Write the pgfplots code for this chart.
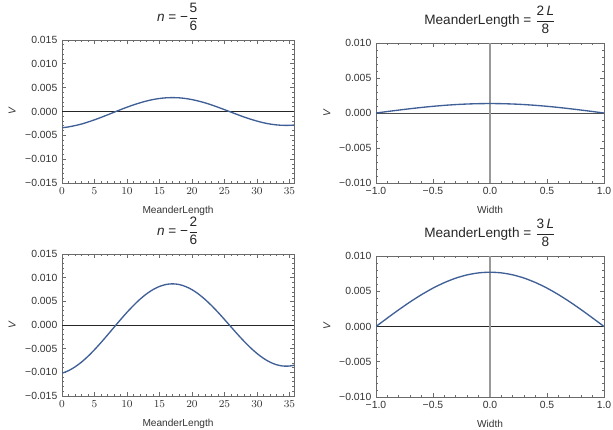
\documentclass[border=0pt]{standalone}
\usepackage{pgfplots}
\pgfplotsset{compat=1.18}
\usepackage{fontspec}
\setmainfont{Liberation Sans}
\definecolor{curve}{HTML}{3F5F96}
\definecolor{frame}{HTML}{6A6A6A}

\pgfplotsset{
  mma/.style={
    scale only axis,
    axis line style={frame, line width=0.6pt},
    tick style={frame, line width=0.5pt},
    major tick length=3pt, minor tick length=1.6pt,
    tick align=inside, tick pos=both,
    xticklabel pos=lower, yticklabel pos=left,
    scaled ticks=false,
    tick label style={font=\fontsize{7.8}{9}\selectfont, text=black!80},
    label style={font=\fontsize{7.6}{9}\selectfont, text=black!80},
    title style={font=\fontsize{10.2}{12}\selectfont, text=black!85, inner sep=1pt},
    ylabel style={at={(axis description cs:-0.215,0.5)}, anchor=center},
    xlabel style={yshift=-1.5pt},
    minor x tick num=4, minor y tick num=4,
  },
  left/.style={
    mma, width=174pt, xmin=0, xmax=35.7, ymin=-0.015, ymax=0.015,
    xtick={0,5,...,35},
    ytick={-0.015,-0.01,-0.005,0,0.005,0.01,0.015},
    yticklabels={−0.015,−0.010,−0.005,0.000,0.005,0.010,0.015},
    xlabel={MeanderLength}, ylabel={\itshape V},
  },
  right/.style={
    mma, width=171pt, xmin=-1, xmax=1, ymin=-0.01, ymax=0.01,
    xtick={-1,-0.5,0,0.5,1},
    xticklabels={−1.0,−0.5,0.0,0.5,1.0},
    ytick={-0.01,-0.005,0,0.005,0.01},
    yticklabels={−0.010,−0.005,0.000,0.005,0.010},
    xlabel={Width}, ylabel={\itshape V},
  },
}

\begin{document}
\begin{tikzpicture}
\useasboundingbox (0,0) rectangle (459.75pt,321.75pt);

% top left
\begin{axis}[left, at={(46.5pt,184.5pt)}, anchor=south west, height=107.25pt,
  title={{\itshape n} = −$\displaystyle\frac{\mbox{5}}{\mbox{6}}$}]
\draw[black!85, line width=0.6pt] (axis cs:0,0) -- (axis cs:35.7,0);
\addplot[curve, line width=1pt, smooth] coordinates {
(0,-0.00342) (1,-0.00323) (2,-0.00296) (3,-0.00263) (4,-0.00221) (5,-0.00175)
(6,-0.00124) (7,-0.00071) (8,-0.00016) (9,0.00038) (10,0.00090) (11,0.00138)
(12,0.00182) (13,0.00220) (14,0.00251) (15,0.00273) (16,0.00287) (17,0.00291)
(18,0.00287) (19,0.00273) (20,0.00250) (21,0.00219) (22,0.00182) (23,0.00138)
(24,0.00090) (25,0.00039) (26,-0.00013) (27,-0.00065) (28,-0.00115) (29,-0.00160)
(30,-0.00201) (31,-0.00236) (32,-0.00263) (33,-0.00281) (34,-0.00290) (35,-0.00290)
(35.7,-0.00285)
};
\end{axis}

% top right
\begin{axis}[right, at={(282pt,184.5pt)}, anchor=south west, height=105pt,
  title={MeanderLength = $\displaystyle\frac{\mbox{2\,\itshape L}}{\mbox{8}}$}]
\draw[black!70, line width=0.6pt] (axis cs:-1,0) -- (axis cs:1,0);
\draw[black!40, line width=0.8pt] (axis cs:0,-0.01) -- (axis cs:0,0.01);
\addplot[curve, line width=1pt, smooth] coordinates {
(-1,0) (-0.9,0.000211) (-0.8,0.000417) (-0.7,0.000613) (-0.6,0.000794)
(-0.5,0.000955) (-0.4,0.001092) (-0.3,0.001203) (-0.2,0.001284) (-0.1,0.001333)
(0,0.00135) (0.1,0.001333) (0.2,0.001284) (0.3,0.001203) (0.4,0.001092)
(0.5,0.000955) (0.6,0.000794) (0.7,0.000613) (0.8,0.000417) (0.9,0.000211) (1,0)
};
\end{axis}

% bottom left
\begin{axis}[left, at={(46.5pt,24.75pt)}, anchor=south west, height=106.5pt,
  title={{\itshape n} = −$\displaystyle\frac{\mbox{2}}{\mbox{6}}$}]
\draw[black!85, line width=0.6pt] (axis cs:0,0) -- (axis cs:35.7,0);
\addplot[curve, line width=1pt, smooth] coordinates {
(0,-0.01019) (1,-0.00965) (2,-0.00885) (3,-0.00784) (4,-0.00661) (5,-0.00522)
(6,-0.00371) (7,-0.00212) (8,-0.00049) (9,0.00112) (10,0.00268) (11,0.00412)
(12,0.00544) (13,0.00657) (14,0.00748) (15,0.00815) (16,0.00856) (17,0.00870)
(18,0.00856) (19,0.00814) (20,0.00747) (21,0.00655) (22,0.00542) (23,0.00412)
(24,0.00269) (25,0.00117) (26,-0.00039) (27,-0.00194) (28,-0.00342) (29,-0.00479)
(30,-0.00601) (31,-0.00704) (32,-0.00784) (33,-0.00839) (34,-0.00867) (35,-0.00867)
(35.7,-0.00850)
};
\end{axis}

% bottom right
\begin{axis}[right, at={(282pt,24pt)}, anchor=south west, height=105.75pt,
  title={MeanderLength = $\displaystyle\frac{\mbox{3\,\itshape L}}{\mbox{8}}$}]
\draw[black!85, line width=0.6pt] (axis cs:-1,0) -- (axis cs:1,0);
\draw[black!40, line width=0.8pt] (axis cs:0,-0.01) -- (axis cs:0,0.01);
\addplot[curve, line width=1pt, smooth] coordinates {
(-1,0) (-0.9,0.001205) (-0.8,0.002379) (-0.7,0.003496) (-0.6,0.004526)
(-0.5,0.005445) (-0.4,0.006229) (-0.3,0.006861) (-0.2,0.007323) (-0.1,0.007605)
(0,0.0077) (0.1,0.007605) (0.2,0.007323) (0.3,0.006861) (0.4,0.006229)
(0.5,0.005445) (0.6,0.004526) (0.7,0.003496) (0.8,0.002379) (0.9,0.001205) (1,0)
};
\end{axis}
\end{tikzpicture}
\end{document}
